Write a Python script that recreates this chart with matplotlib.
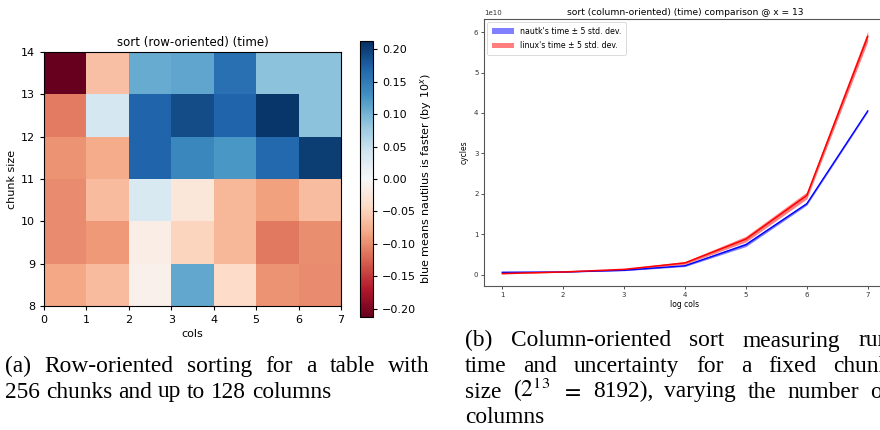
import numpy as np
import matplotlib
matplotlib.use("Agg")
import matplotlib.pyplot as plt
from matplotlib.colors import Normalize

# ---------------- data ----------------
# heatmap: rows are chunk size 8..13 (bottom to top), columns are cols 0..6
heat_cols = [0, 1, 2, 3, 4, 5, 6, 7]
heat_chunks = [8, 9, 10, 11, 12, 13, 14]
row8 = [-0.083, -0.067, -0.011, 0.111, -0.041, -0.096, -0.100]
row9 = [-0.100, -0.092, -0.015, -0.047, -0.070, -0.113, -0.099]
row10 = [-0.100, -0.068, 0.034, -0.026, -0.071, -0.087, -0.066]
row11 = [-0.096, -0.079, 0.171, 0.139, 0.124, 0.168, 0.202]
row12 = [-0.110, 0.038, 0.170, 0.190, 0.170, 0.208, 0.087]
row13 = [-0.213, -0.064, 0.107, 0.113, 0.160, 0.087, 0.087]
cbar_ticks = [-0.20, -0.15, -0.10, -0.05, 0.00, 0.05, 0.10, 0.15, 0.20]

# line plot (units of 1e10 cycles)
log_cols = [1, 2, 3, 4, 5, 6, 7]
nautk_time = [0.058, 0.066, 0.107, 0.22, 0.74, 1.755, 4.05]
nautk_band = [0.006, 0.006, 0.01, 0.02, 0.045, 0.035, 0.025]
linux_time = [0.025, 0.066, 0.13, 0.29, 0.88, 1.96, 5.895]
linux_band = [0.006, 0.008, 0.015, 0.035, 0.07, 0.085, 0.13]

W, H = 880, 430
fig = plt.figure(figsize=(W / 100, H / 100), dpi=100)


def rect(x0, y0, x1, y1):
    return [x0 / W, 1 - y1 / H, (x1 - x0) / W, (y1 - y0) / H]


# ---------------- left: heatmap ----------------
data = np.array([row8, row9, row10, row11, row12, row13])
lim = np.abs(data).max()
ax1 = fig.add_axes(rect(44, 52, 341, 306))
mesh = ax1.pcolormesh(heat_cols, heat_chunks, data, cmap="RdBu",
                      norm=Normalize(vmin=-lim, vmax=lim))
ax1.set_xticks(heat_cols)
ax1.set_yticks(heat_chunks)
ax1.tick_params(labelsize=8, length=3, width=0.8)
ax1.set_xlabel("cols", fontsize=8, labelpad=3)
ax1.set_ylabel("chunk size", fontsize=8, labelpad=3)
ax1.set_title("sort (row-oriented) (time)", fontsize=8.5, pad=4)
for s in ax1.spines.values():
    s.set_linewidth(0.8)

cax = fig.add_axes(rect(360, 41, 373, 317))
cb = fig.colorbar(mesh, cax=cax, ticks=cbar_ticks)
cb.ax.tick_params(labelsize=8, length=3, width=0.8)
cb.ax.set_yticklabels([f"{t:.2f}".replace("-", "\u2212") for t in cbar_ticks])
cb.set_label("blue means nautilus is faster (by $10^x$)", fontsize=8, labelpad=1)
cb.outline.set_linewidth(0.8)

# ---------------- right: line plot ----------------
ax2 = fig.add_axes(rect(484, 19, 886, 286))
x = np.array(log_cols)
nt, nb = np.array(nautk_time), np.array(nautk_band)
lt, lb = np.array(linux_time), np.array(linux_band)
ax2.fill_between(x, (nt - nb) * 1e10, (nt + nb) * 1e10, color="blue", alpha=0.5,
                 linewidth=0, label="nautk's time \u00b1 5 std. dev.")
ax2.plot(x, nt * 1e10, color="blue", lw=1.0)
ax2.fill_between(x, (lt - lb) * 1e10, (lt + lb) * 1e10, color="red", alpha=0.5,
                 linewidth=0, label="linux's time \u00b1 5 std. dev.")
ax2.plot(x, lt * 1e10, color="red", lw=1.1)
ax2.set_xticks(log_cols)
ax2.tick_params(labelsize=5, length=2, width=0.6, pad=2, colors="#333333")
ax2.yaxis.get_offset_text().set_fontsize(5)
ax2.set_xlabel("log cols", fontsize=5.5, labelpad=2)
ax2.set_ylabel("cycles", fontsize=5.5, labelpad=4)
ax2.set_title("sort (column-oriented) (time) comparison @ x = 13", fontsize=6.6, pad=3)
for s in ax2.spines.values():
    s.set_linewidth(0.8)
    s.set_color("#555555")
leg = ax2.legend(loc="upper left", fontsize=5.6, handlelength=2.8, borderpad=0.6,
                 labelspacing=0.7, framealpha=1, borderaxespad=0.4)
leg.get_frame().set_linewidth(0.5)

# ---------------- captions ----------------
plt.rcParams["mathtext.fontset"] = "stix"
cap_font = dict(family=["Liberation Serif", "DejaVu Serif"], fontsize=16.8)
renderer = fig.canvas.get_renderer()


def caption_line(words, x0, x1, y, justify=True):
    texts = [fig.text(0, 1 - y / H, w, ha="left", va="baseline", **cap_font) for w in words]
    widths = [t.get_window_extent(renderer).width for t in texts]
    if justify and len(words) > 1:
        gap = (x1 - x0 - sum(widths)) / (len(words) - 1)
    else:
        sp = fig.text(0, 0, "a a", **cap_font)
        sa = fig.text(0, 0, "aa", **cap_font)
        gap = sp.get_window_extent(renderer).width - sa.get_window_extent(renderer).width
        sp.remove()
        sa.remove()
    pos = x0
    for t, w in zip(texts, widths):
        t.set_x(pos / W)
        pos += w + gap


caption_line("(a) Row-oriented sorting for a table with".split(), 5, 430, 372)
caption_line("256 chunks and up to 128 columns".split(), 5, 430, 397.5, justify=False)
caption_line("(b) Column-oriented sort measuring run".split(), 465, 890, 346.5)
caption_line("time and uncertainty for a fixed chunk".split(), 465, 890, 372)
caption_line(["size", "($2^{13}$", "$=$", "8192),", "varying", "the", "number", "of"],
             465, 890, 397.5)
caption_line(["columns"], 465, 890, 423, justify=False)

fig.savefig("out.png", dpi=100)
